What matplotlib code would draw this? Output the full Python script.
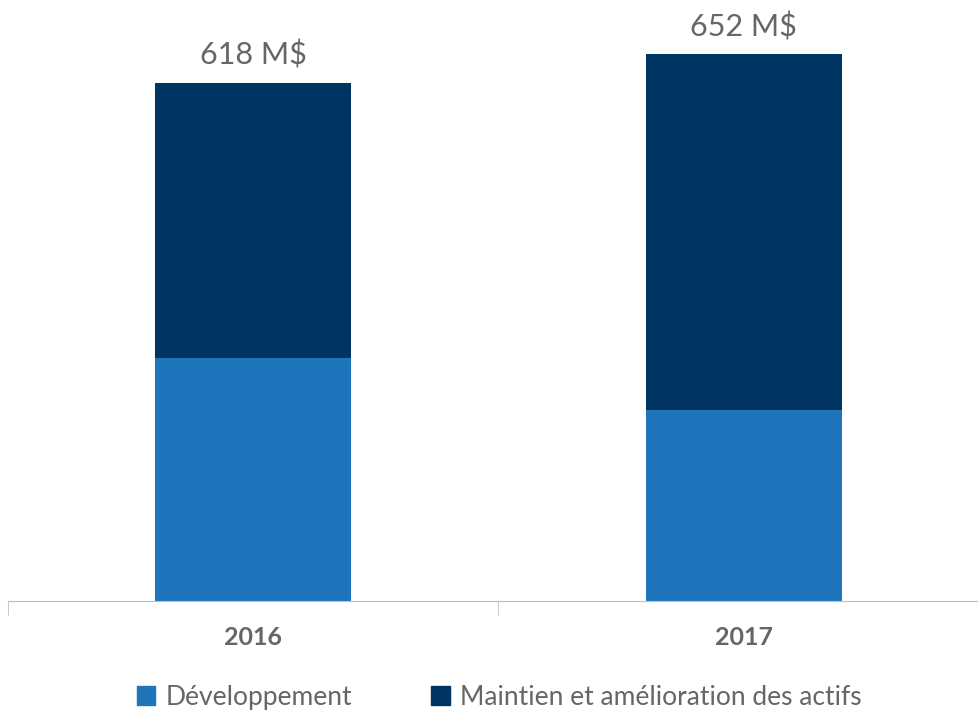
import matplotlib.pyplot as plt
from matplotlib.patches import Patch

# données (M$)
annees = ['2016', '2017']
developpement = [290, 228]
maintien = [328, 424]
totaux = ['618 M$', '652 M$']

bleu_clair = '#1F75BC'
bleu_fonce = '#003462'
gris = '#666666'

plt.rcParams['font.family'] = ['Lato', 'DejaVu Sans']

fig = plt.figure(figsize=(9.79, 7.12), dpi=100)
ax = fig.add_axes([8 / 979, 111 / 712, 971 / 979, 601 / 712])

x = list(range(len(annees)))
ax.bar(x, developpement, width=0.4, color=bleu_clair, label='Développement')
ax.bar(x, maintien, width=0.4, bottom=developpement, color=bleu_fonce,
       label='Maintien et amélioration des actifs')

for i in x:
    total = developpement[i] + maintien[i]
    ax.text(i, total + 16, totaux[i], ha='center', va='bottom',
            fontsize=22, color=gris)

ax.set_xlim(-0.5, 1.48)
ax.set_ylim(0, 717)
for s in ['top', 'right', 'left']:
    ax.spines[s].set_visible(False)
ax.spines['bottom'].set_color('#BFBFBF')
ax.set_yticks([])
ax.set_xticks(x)
ax.set_xticklabels(annees, fontsize=18, fontweight='bold', color=gris)
ax.tick_params(axis='x', which='major', length=0, pad=18)
ax.set_xticks([-0.5, 0.5], minor=True)
ax.tick_params(axis='x', which='minor', length=10, color='#BFBFBF')

poignees = [Patch(color=bleu_clair), Patch(color=bleu_fonce)]
fig.legend(poignees, ['Développement', 'Maintien et amélioration des actifs'],
           loc='lower center', bbox_to_anchor=(0.51, -0.03), ncol=2,
           frameon=False, fontsize=19, labelcolor=gris,
           handlelength=0.7, handleheight=0.7, handletextpad=0.4,
           columnspacing=3.0)

fig.savefig('out.png', dpi=100)
